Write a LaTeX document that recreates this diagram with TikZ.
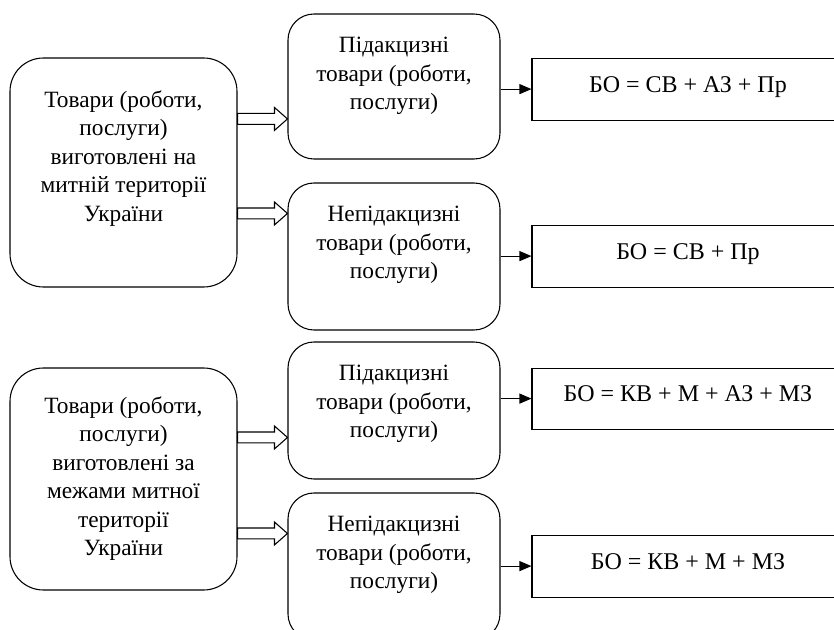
\documentclass[tikz,border=0pt]{standalone}
\usepackage{fontspec}
\setmainfont{Liberation Serif}
\usepackage{tikz}
\usetikzlibrary{arrows.meta,positioning,calc}
\tikzset{
    %Define standard arrow tip
    >={Triangle[length=9pt,width=7.5pt]},
    %Define style for rounded boxes
    group/.style={
           draw, rounded corners=25pt, line width=0.8pt, inner sep=0pt},
    %Define style for box texts
    title/.style={
           align=center, inner sep=0pt,
           font=\fontsize{17.5}{21.4}\selectfont},
    % Define arrow style
    pil/.style={
           ->,
           line width=0.8pt},
    % Define hollow arrow style
    wide/.style={
           draw, fill=white, line width=0.8pt, line join=miter,
           to path={let \p1=(\tikztostart), \p2=(\tikztotarget) in
              (\x1,\y1+4.1pt) -- (\x2-9.75pt,\y1+4.1pt) -- (\x2-9.75pt,\y1+8.6pt)
              -- (\x2,\y1) -- (\x2-9.75pt,\y1-8.6pt) -- (\x2-9.75pt,\y1-4.1pt)
              -- (\x1,\y1-4.1pt) -- cycle}}
}

\begin{document}
\begin{tikzpicture}[x=0.75pt,y=-0.75pt]
	% styles
	\tikzstyle{kind} = [group, rounded corners=19.5pt, minimum width=159pt]
	\tikzstyle{res} = [draw, line width=0.8pt, minimum width=234pt, minimum height=46pt, inner sep=0pt]
	\tikzstyle{formula} = [inner sep=0pt, anchor=base, yshift=-2pt, font=\fontsize{18}{20}\selectfont]

	\useasboundingbox (0,0) rectangle (834,630);
	\clip (0,0) rectangle (834,630);

	% goods made in Ukraine
	\node[group, minimum width=170.25pt, minimum height=171.75pt] (in-src) at (123.5,172.5) {};
	\node[title, below=24.5pt of in-src.north] (in-src-text) {Товари (роботи,\\послуги)\\виготовлені на\\митній території\\України};

	\node[kind, minimum height=108.75pt] (in-exc) at (394,86.5) {};
	\node[title, below=17.5pt of in-exc.north] (in-exc-text) {Підакцизні\\товари (роботи,\\послуги)};
	\node[kind, minimum height=110.25pt] (in-nexc) at (394,256.5) {};
	\node[title, below=17.5pt of in-nexc.north] (in-nexc-text) {Непідакцизні\\товари (роботи,\\послуги)};

	\node[res] (in-exc-box) at (688,89.5) {};
	\node[formula] (in-exc-f) at (in-exc-box) {БО = СВ + АЗ + Пр};
	\node[res] (in-nexc-box) at (688,256.5) {};
	\node[formula] (in-nexc-f) at (in-nexc-box) {БО = СВ + Пр};

	\draw[wide] ([yshift=-46.1pt]in-src.north east) to (in-exc.west);
	\draw[wide] ([yshift=-117pt]in-src.north east) to (in-nexc.west);
	\draw[pil] (in-exc.east |- in-exc-f.mid) -- (in-exc-box.west |- in-exc-f.mid);
	\draw[pil] (in-nexc.east |- in-nexc-f.mid) -- (in-nexc-box.west |- in-nexc-f.mid);

	% goods made abroad
	\node[group, minimum width=170.25pt, minimum height=166.5pt] (out-src) at (123.5,479) {};
	\node[title, below=21.5pt of out-src.north] (out-src-text) {Товари (роботи,\\послуги)\\виготовлені за\\межами митної\\території\\України};

	\node[kind, minimum height=102.75pt] (out-exc) at (394,410.5) {};
	\node[title, below=17.5pt of out-exc.north] (out-exc-text) {Підакцизні\\товари (роботи,\\послуги)};
	\node[kind, minimum height=110.25pt] (out-nexc) at (394,566.5) {};
	\node[title, below=17.5pt of out-nexc.north] (out-nexc-text) {Непідакцизні\\товари (роботи,\\послуги)};

	\node[res] (out-exc-box) at (688,399) {};
	\node[formula] (out-exc-f) at (out-exc-box) {БО = КВ + М + АЗ + МЗ};
	\node[res] (out-nexc-box) at (688,566.5) {};
	\node[formula] (out-nexc-f) at (out-nexc-box) {БО = КВ + М + МЗ};

	\draw[wide] ([yshift=-52.5pt]out-src.north east) to (out-exc.west);
	\draw[wide] ([yshift=-124.5pt]out-src.north east) to (out-nexc.west);
	\draw[pil] (out-exc.east |- out-exc-f.mid) -- (out-exc-box.west |- out-exc-f.mid);
	\draw[pil] (out-nexc.east |- out-nexc-f.mid) -- (out-nexc-box.west |- out-nexc-f.mid);
\end{tikzpicture}
\end{document}
